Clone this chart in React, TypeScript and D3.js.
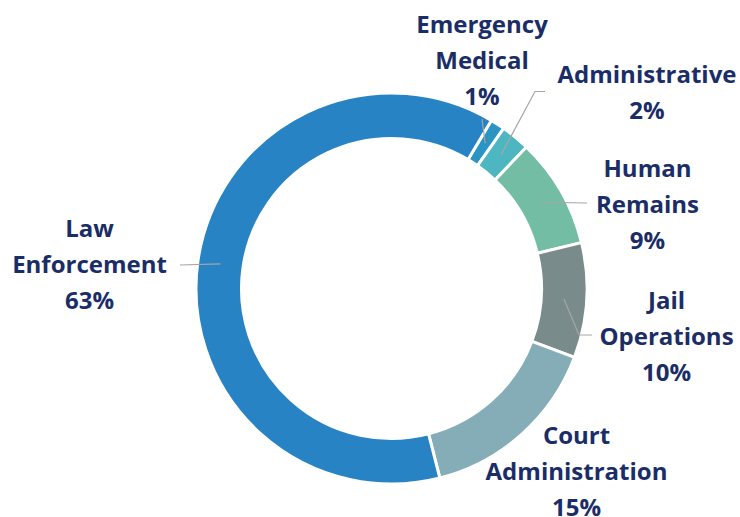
import React from "react";
import * as d3 from "d3";

const categories = ["Emergency Medical", "Administrative", "Human Remains", "Jail Operations", "Court Administration", "Law Enforcement"];
const values = [1.2, 2.4, 9.1, 9.5, 15.3, 62.5];
const labelLines = [["Emergency", "Medical"], ["Administrative"], ["Human", "Remains"], ["Jail", "Operations"], ["Court", "Administration"], ["Law", "Enforcement"]];
const colors = ["#2A95C2", "#4DB6C1", "#74BDA5", "#7A8B8C", "#85ADB7", "#2883C5"];

// label layout (positions only)
const labelLayout = [
  { x: 482, y: 33, leader: [[482, 119]] },
  { x: 647, y: 82.5, leader: [[535, 91.5], [545, 91.5]] },
  { x: 647.5, y: 177, leader: [[587, 203]] },
  { x: 666.5, y: 309, leader: [[579, 335], [592, 335]] },
  { x: 576.5, y: 443.5, leader: null },
  { x: 89.5, y: 236.5, leader: [[180, 265]] },
];

const W = 740, H = 517;
const cx = 391.5, cy = 288.5;
const outerR = 195.5, innerR = 150;
const startDeg = 30.7;
const lineH = 36.2;

export default function App() {
  const total = d3.sum(values);
  const pie = d3.pie<number>().sort(null).value((d) => d)
    .startAngle((startDeg * Math.PI) / 180)
    .endAngle((startDeg * Math.PI) / 180 + 2 * Math.PI);
  const arcs = pie(values);
  const arc = d3.arc<d3.PieArcDatum<number>>().innerRadius(innerR).outerRadius(outerR);
  const fmt = (v: number) => `${Math.round((v / total) * 100)}%`;

  return (
    <svg width={W} height={H} style={{ position: "absolute", left: 0, top: 0, background: "#fff" }}>
      <g transform={`translate(${cx},${cy})`}>
        {arcs.map((a, i) => (
          <path key={i} d={arc(a) || ""} fill={colors[i]} stroke="#fff" strokeWidth={3} />
        ))}
      </g>
      {arcs.map((a, i) => {
        const lay = labelLayout[i];
        if (!lay.leader) return null;
        const [mx, my] = arc.centroid(a);
        const pts = [[cx + mx, cy + my], ...lay.leader];
        const line = d3.line()(pts as [number, number][]);
        return <path key={"l" + i} d={line || ""} fill="none" stroke="#A6A6A6" strokeWidth={1.2} />;
      })}
      {arcs.map((a, i) => {
        const lay = labelLayout[i];
        const lines = [...labelLines[i], fmt(values[i])];
        return (
          <text key={"t" + i} x={lay.x} y={lay.y} textAnchor="middle" fill="#1B2D67"
            style={{ fontFamily: "'Open Sans', sans-serif", fontWeight: 700, fontSize: 24 }}>
            {lines.map((s, j) => (
              <tspan key={j} x={lay.x} y={lay.y + j * lineH}>{s}</tspan>
            ))}
          </text>
        );
      })}
    </svg>
  );
}
